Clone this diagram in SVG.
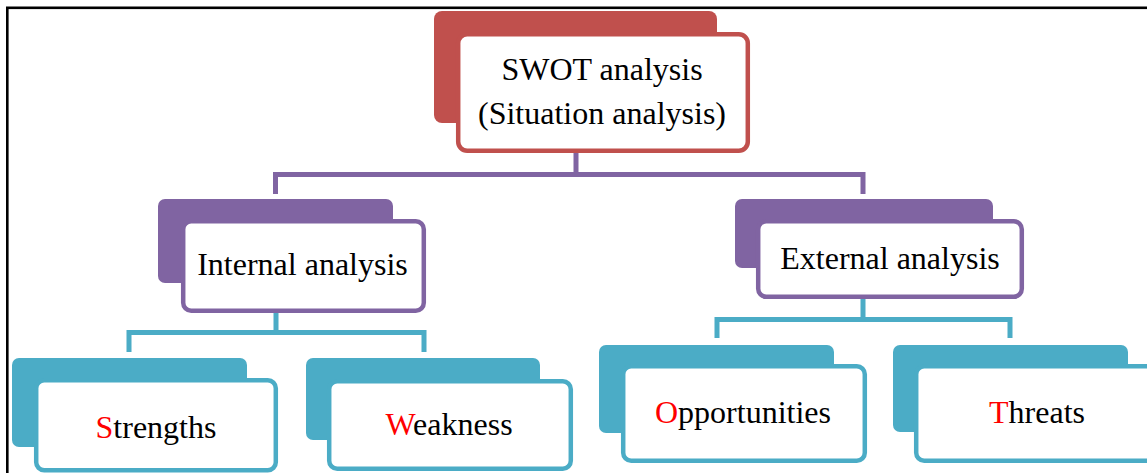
<svg xmlns="http://www.w3.org/2000/svg" width="1147" height="473" viewBox="0 0 1147 473">
<style>
.t{font-family:"Liberation Serif","Times New Roman",serif;font-size:32px;fill:#000;text-anchor:middle}
.hl{fill:#FF0000}
.front{fill:#fff;stroke-width:4.5}
.red .back{fill:#C0504D}.red .front{stroke:#C0504D}
.pur .back{fill:#8064A2}.pur .front{stroke:#8064A2}
.cy .back{fill:#4BACC6}.cy .front{stroke:#4BACC6}
.cp{fill:none;stroke:#8064A2;stroke-width:5}
.cc{fill:none;stroke:#4BACC6;stroke-width:5}
</style>
<rect x="0" y="0" width="1147" height="473" fill="#fff"/>
<rect x="7.3" y="7.8" width="1160" height="480" fill="none" stroke="#000" stroke-width="2.6"/>
<g id="connectors">
<path class="cp" d="M576 151V174.5M275.5 194V174.5H863V194"/>
<path class="cc" d="M276 313V332.5M129 352V332.5H424V352"/>
<path class="cc" d="M863 298V319.5M717 338V319.5H1010V338"/>
</g>
<g id="swot" class="red">
<rect class="back" x="434" y="11" width="283" height="112" rx="8"/>
<rect class="front" x="458.2" y="34.2" width="289.6" height="116.6" rx="9"/>
<text class="t" x="602" y="80">SWOT analysis</text>
<text class="t" x="602" y="124">(Situation analysis)</text>
</g>
<g id="internal" class="pur">
<rect class="back" x="158" y="199" width="235" height="84" rx="7"/>
<rect class="front" x="183.2" y="221.2" width="240.6" height="89.6" rx="8"/>
<text class="t" x="302.5" y="275">Internal analysis</text>
</g>
<g id="external" class="pur">
<rect class="back" x="735" y="199" width="258" height="69" rx="7"/>
<rect class="front" x="758.2" y="221.2" width="263.6" height="75.6" rx="8"/>
<text class="t" x="890" y="269">External analysis</text>
</g>
<g id="strengths" class="cy">
<rect class="back" x="12" y="358" width="235" height="89" rx="7"/>
<rect class="front" x="36.2" y="380.2" width="239.6" height="90" rx="8"/>
<text class="t" x="156" y="438"><tspan class="hl">S</tspan>trengths</text>
</g>
<g id="weakness" class="cy">
<rect class="back" x="306" y="358" width="234" height="82" rx="7"/>
<rect class="front" x="329.2" y="381.2" width="241.6" height="87.6" rx="8"/>
<text class="t" x="449" y="435"><tspan class="hl">W</tspan>eakness</text>
</g>
<g id="opportunities" class="cy">
<rect class="back" x="599" y="345" width="235" height="88" rx="7"/>
<rect class="front" x="623.2" y="366.2" width="241.6" height="94.6" rx="8"/>
<text class="t" x="743" y="423"><tspan class="hl">O</tspan>pportunities</text>
</g>
<g id="threats" class="cy">
<rect class="back" x="893" y="345" width="235" height="87" rx="7"/>
<rect class="front" x="916.2" y="366.2" width="241.6" height="94.6" rx="8"/>
<text class="t" x="1037" y="423"><tspan class="hl">T</tspan>hreats</text>
</g>
</svg>
